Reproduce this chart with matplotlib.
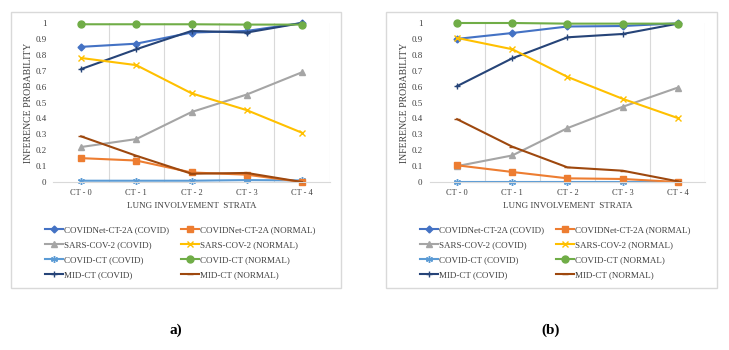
import matplotlib
matplotlib.use("Agg")
import matplotlib.pyplot as plt
from matplotlib.patches import Rectangle

plt.rcParams['font.family'] = ['Liberation Serif', 'DejaVu Serif']

categories = ["CT - 0", "CT - 1", "CT - 2", "CT - 3", "CT - 4"]
yticks = [0, 0.1, 0.2, 0.3, 0.4, 0.5, 0.6, 0.7, 0.8, 0.9, 1]
ytick_labels = ["0", "0.1", "0.2", "0.3", "0.4", "0.5", "0.6", "0.7", "0.8", "0.9", "1"]

series_names = [
    "COVIDNet-CT-2A (COVID)", "SARS-COV-2 (COVID)", "COVID-CT (COVID)", "MID-CT (COVID)",
    "COVIDNet-CT-2A (NORMAL)", "SARS-COV-2 (NORMAL)", "COVID-CT (NORMAL)", "MID-CT (NORMAL)",
]

# Panel a)
a_covidnet_covid = [0.85, 0.87, 0.94, 0.95, 1.00]
a_sars_covid = [0.22, 0.27, 0.44, 0.55, 0.69]
a_covidct_covid = [0.008, 0.008, 0.008, 0.012, 0.01]
a_midct_covid = [0.71, 0.835, 0.95, 0.94, 1.00]
a_covidnet_normal = [0.15, 0.135, 0.06, 0.046, 0.0]
a_sars_normal = [0.78, 0.735, 0.558, 0.452, 0.31]
a_covidct_normal = [0.992, 0.992, 0.992, 0.99, 0.99]
a_midct_normal = [0.287, 0.165, 0.052, 0.057, 0.0]

# Panel (b)
b_covidnet_covid = [0.90, 0.937, 0.978, 0.981, 0.998]
b_sars_covid = [0.10, 0.167, 0.339, 0.473, 0.594]
b_covidct_covid = [0.002, 0.002, 0.002, 0.002, 0.002]
b_midct_covid = [0.603, 0.778, 0.91, 0.931, 0.996]
b_covidnet_normal = [0.105, 0.063, 0.023, 0.019, 0.0]
b_sars_normal = [0.906, 0.835, 0.661, 0.523, 0.402]
b_covidct_normal = [1.0, 1.0, 0.996, 0.996, 0.996]
b_midct_normal = [0.395, 0.222, 0.092, 0.071, 0.004]

styles = [
    dict(color="#4472C4", marker="D", ms=3.5),
    dict(color="#A5A5A5", marker="^", ms=4.5),
    dict(color="#5B9BD5", marker=(6, 2, 0), ms=5, mew=1.0),
    dict(color="#264478", marker="+", ms=5, mew=1.0),
    dict(color="#ED7D31", marker="s", ms=4.5),
    dict(color="#FFC000", marker="x", ms=4.5, mew=1.0),
    dict(color="#70AD47", marker="o", ms=5),
    dict(color="#9E480E", marker="_", ms=5, mew=1.0),
]

W, H = 729, 350
fig = plt.figure(figsize=(W / 100, H / 100), dpi=100)


def px_rect(x0, y0, x1, y1):
    return [x0 / W, 1 - y1 / H, (x1 - x0) / W, (y1 - y0) / H]


def draw_panel(box, axrect, data, caption, cap_x, leg_x):
    fig.patches.append(Rectangle((box[0] / W, 1 - box[3] / H), (box[2] - box[0]) / W,
                                 (box[3] - box[1]) / H, transform=fig.transFigure,
                                 fill=False, edgecolor="#D9D9D9", lw=1.0))
    ax = fig.add_axes(px_rect(*axrect))
    x = list(range(len(categories)))
    handles = []
    for name, vals, st in zip(series_names, data, styles):
        h, = ax.plot(x, vals, lw=1.5, label=name, markeredgecolor=st["color"],
                     **st, clip_on=False)
        handles.append(h)
    ax.set_xlim(-0.5, 4.5)
    ax.set_ylim(0, 1)
    for gx in [0.5, 1.5, 2.5, 3.5, 4.5]:
        ax.axvline(gx, color="#D9D9D9", lw=0.8, zorder=0)
    for s in ["top", "right", "left"]:
        ax.spines[s].set_visible(False)
    ax.spines["bottom"].set_color("#D9D9D9")
    ax.set_xticks(x)
    ax.set_xticklabels(categories, fontsize=6, color="#404040")
    ax.set_yticks(yticks)
    ax.set_yticklabels(ytick_labels, fontsize=6.5, color="#404040")
    ax.tick_params(length=0, pad=5)
    ax.set_xlabel("LUNG INVOLVEMENT  STRATA", fontsize=6.5, color="#404040", labelpad=3.5)
    ax.set_ylabel("INFERENCE PROBABILITY", fontsize=7, color="#404040", labelpad=2)
    fig.legend(handles=handles, loc="upper left",
               bbox_to_anchor=(leg_x / W, 1 - 221 / H), ncol=2, fontsize=6.5,
               frameon=False, handlelength=2.0, handletextpad=0.15,
               columnspacing=1.3, labelspacing=0.75, borderpad=0,
               labelcolor="#404040")
    fig.text(cap_x / W, 1 - 330 / H, caption, fontsize=11, fontweight="bold",
             ha="center", va="center")
    return ax


draw_panel((11, 12, 341, 288), (53.5, 23, 329.5, 182),
           [a_covidnet_covid, a_sars_covid, a_covidct_covid, a_midct_covid,
            a_covidnet_normal, a_sars_normal, a_covidct_normal, a_midct_normal],
           "a)", 176, 40)
draw_panel((386, 12, 717, 288), (429.5, 23, 705.5, 182),
           [b_covidnet_covid, b_sars_covid, b_covidct_covid, b_midct_covid,
            b_covidnet_normal, b_sars_normal, b_covidct_normal, b_midct_normal],
           "(b)", 551, 415)

fig.savefig("out.png", dpi=100)
